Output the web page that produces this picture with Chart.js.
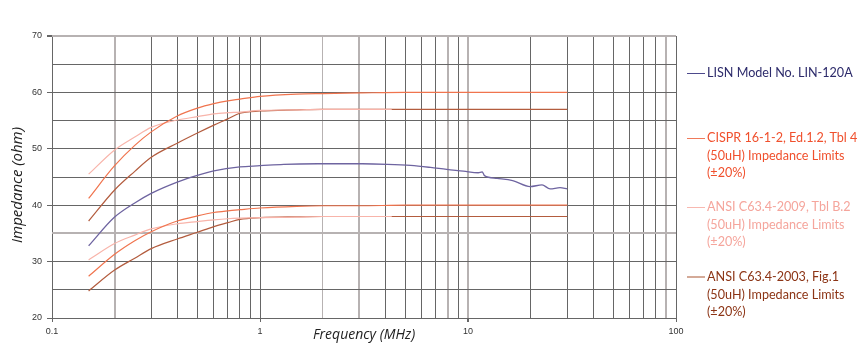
<!DOCTYPE html>
<html>
<head>
<meta charset="utf-8">
<script src="https://cdn.jsdelivr.net/npm/chart.js@4.4.0/dist/chart.umd.min.js"></script>
<style>
html,body{margin:0;padding:0;background:#fff;}
#wrap{position:relative;width:864px;height:359px;overflow:hidden;}
canvas{position:absolute;left:0;top:0;}
.item{position:absolute;left:687px;font-family:Lato,'Open Sans',sans-serif;font-size:12.6px;line-height:17.7px;white-space:nowrap;}
.item .sw{position:absolute;left:0;width:18px;height:0;top:9px;border-top:1px solid;}
.item .tx{margin-left:20px;}
</style>
</head>
<body>
<div id="wrap">
<canvas id="c" width="864" height="359"></canvas>
<div class="item" style="top:64px;color:#2d2b6b"><span class="sw" style="border-color:#4d4a8c"></span><div class="tx">LISN Model No. LIN-120A</div></div>
<div class="item" style="top:129px;color:#f0502d"><span class="sw" style="border-color:#f07a5a"></span><div class="tx">CISPR 16-1-2, Ed.1.2, Tbl 4<br>(50uH) Impedance Limits<br>(±20%)</div></div>
<div class="item" style="top:198px;color:#f5a59c"><span class="sw" style="border-color:#f8b8b0"></span><div class="tx">ANSI C63.4-2009, Tbl B.2<br>(50uH) Impedance Limits<br>(±20%)</div></div>
<div class="item" style="top:268px;color:#8c3415"><span class="sw" style="border-color:#d4aa98;border-top-width:2px;top:8px"></span><div class="tx">ANSI C63.4-2003, Fig.1<br>(50uH) Impedance Limits<br>(±20%)</div></div>
</div>
<script>
// ---- data (frequency in MHz, impedance in ohm) ----
const lisnFreq = [0.15,0.2,0.25,0.3,0.4,0.5,0.6,0.8,1.0,1.3,1.9,3.1,4.1,5.3,6.6,7.9,9.5,11.2,11.7,12.0,13.8,16.4,19.9,22.7,24.8,27.7,30];
const lisnZ    = [32.8,37.9,40.4,42.1,44.1,45.3,46.1,46.8,47.0,47.25,47.35,47.35,47.25,47.05,46.7,46.35,46.05,45.75,45.9,45.25,44.75,44.35,43.3,43.6,42.9,43.1,42.9];

const cisprFreq  = [0.15,0.2,0.25,0.3,0.4,0.5,0.6,0.7,0.8,1,1.5,2,3,5,10,30];
const cisprUpper = [41.2,47.0,50.6,53.0,55.8,57.2,58.0,58.5,58.8,59.3,59.7,59.8,59.9,60,60,60];
const cisprLower = [27.4,31.3,33.7,35.3,37.2,38.1,38.7,39.0,39.2,39.5,39.8,39.9,39.9,40,40,40];

const ansi2009Freq  = [0.15,0.2,0.25,0.3,0.4,0.5,0.6,0.7,0.8,1,1.5,2,3,4.3];
const ansi2009Upper = [45.5,49.8,52.1,53.8,55.1,55.7,56.2,56.4,56.5,56.8,56.9,57.0,57.0,57.0];
const ansi2009Lower = [30.3,33.2,34.7,35.8,36.7,37.1,37.4,37.6,37.7,37.8,37.9,38.0,38.0,38.0];

const ansi2003Freq  = [0.15,0.2,0.25,0.3,0.4,0.5,0.6,0.7,0.8,1,1.5,2,3,5,10,30];
const ansi2003Upper = [37.2,42.7,46.0,48.5,51.0,52.8,54.2,55.3,56.3,56.7,56.9,57.0,57.0,57.0,57.0,57.0];
const ansi2003Lower = [24.8,28.5,30.6,32.3,34.0,35.2,36.2,36.9,37.5,37.8,37.95,38.0,38.0,38.0,38.0,38.0];

const xTickValues = [0.1,0.2,0.3,0.4,0.5,0.6,0.7,0.8,0.9,1,2,3,4,5,6,7,8,9,10,20,30,40,50,60,70,80,90,100];
const xLabelValues = [0.1,1,10,100];
const xTickLabels  = ['0.1','1','10','100'];
const yTickValues = [20,25,30,35,40,45,50,55,60,65,70];
const yTickLabels = [20,30,40,50,60,70];

// ---- styling ----
const DARK = '#666666', LIGHT = '#b7b2b2';
const xLightThick = [0.2,3,8,10,90], xLightThin = [2];
const yLightThick = [35,70];
const near = (a,b)=>Math.abs(a-b) < 1e-6*Math.max(1,Math.abs(b));
const inList = (v,l)=>l.some(w=>near(v,w));

function pts(f, v){ return f.map((x,i)=>({x:x, y:v[i]})); }
function band(f, up, lo){ return [...pts(f,up), {x:f[f.length-1], y:null}, ...pts(f,lo)]; }

const yTitleShift = {
  id:'yTitleShift',
  beforeDraw(chart){
    const y = chart.scales.y, ca = chart.chartArea;
    y.top = ca.top + 8; y.bottom = ca.bottom + 8;
  }
};

new Chart(document.getElementById('c'), {
  type:'line',
  data:{ datasets:[
    {label:'LISN Model No. LIN-120A', data:pts(lisnFreq,lisnZ), borderColor:'#6e64a0', borderWidth:1.3},
    {label:'CISPR 16-1-2, Ed.1.2, Tbl 4 (50uH) Impedance Limits (±20%)', data:band(cisprFreq,cisprUpper,cisprLower), borderColor:'#f0744e', borderWidth:1.2},
    {label:'ANSI C63.4-2009, Tbl B.2 (50uH) Impedance Limits (±20%)', data:band(ansi2009Freq,ansi2009Upper,ansi2009Lower), borderColor:'#f8b4aa', borderWidth:1.2},
    {label:'ANSI C63.4-2003, Fig.1 (50uH) Impedance Limits (±20%)', data:band(ansi2003Freq,ansi2003Upper,ansi2003Lower), borderColor:'#b35c3e', borderWidth:1.2}
  ]},
  options:{
    responsive:false, animation:false, parsing:true,
    layout:{padding:{left:0,right:188,top:36,bottom:0}},
    elements:{point:{radius:0,hoverRadius:0}, line:{cubicInterpolationMode:'monotone', fill:false}},
    spanGaps:false,
    plugins:{legend:{display:false}, tooltip:{enabled:false}},
    scales:{
      x:{
        type:'logarithmic', min:0.1, max:100, position:'bottom',
        afterBuildTicks:s=>{ s.ticks = xTickValues.map(v=>({value:v})); },
        afterFit:s=>{ s.height = 41; },
        ticks:{autoSkip:false, maxRotation:0, minRotation:0, padding:4, color:'#333',
          font:{family:'Liberation Sans', size:9},
          callback:(v)=>{ const i = xLabelValues.findIndex(w=>near(v,w)); return i>=0 ? xTickLabels[i] : ''; }},
        grid:{
          color:c=> (c.tick && (inList(c.tick.value,xLightThick)||inList(c.tick.value,xLightThin))) ? LIGHT : DARK,
          lineWidth:c=> (c.tick && inList(c.tick.value,xLightThick)) ? 2 : 1,
          tickLength:4,
          tickColor:c=> (c.tick && inList(c.tick.value,xLabelValues)) ? DARK : 'rgba(0,0,0,0)'
        },
        border:{display:true, color:DARK, width:1},
        title:{display:true, text:'Frequency (MHz)', color:'#222',
          font:{family:'Open Sans', size:14, style:'italic'}, padding:{top:0,bottom:15.6}}
      },
      y:{
        type:'linear', min:20, max:70,
        afterBuildTicks:s=>{ s.ticks = yTickValues.map(v=>({value:v})); },
        afterFit:s=>{ s.width = 52; },
        ticks:{padding:5, color:'#333', font:{family:'Liberation Sans', size:9},
          callback:(v)=> yTickLabels.includes(v) ? String(v) : ''},
        grid:{
          color:c=> (c.tick && inList(c.tick.value,yLightThick)) ? LIGHT : DARK,
          lineWidth:c=> (c.tick && inList(c.tick.value,yLightThick)) ? 2 : 1,
          tickLength:5,
          tickColor:c=> (c.tick && yTickLabels.includes(c.tick.value)) ? DARK : 'rgba(0,0,0,0)'
        },
        border:{display:false},
        title:{display:true, text:'Impedance (ohm)', color:'#222',
          font:{family:'Open Sans', size:15, style:'italic'}, padding:{top:9,bottom:0}}
      }
    }
  },
  plugins:[yTitleShift]
});
</script>
</body>
</html>
